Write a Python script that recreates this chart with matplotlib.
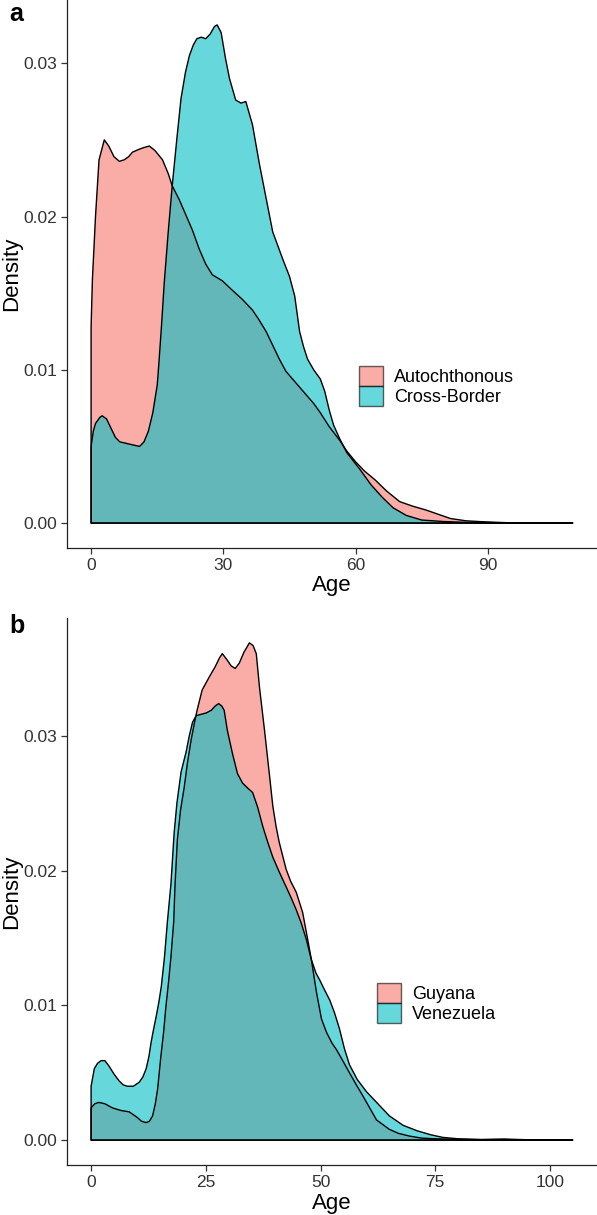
import numpy as np
import matplotlib
matplotlib.use("Agg")
import matplotlib.pyplot as plt
from matplotlib.patches import Patch

plt.rcParams['font.family'] = ['Liberation Sans', 'DejaVu Sans']

# ---------------- data ----------------
# Panel a
groups_a = ["Autochthonous", "Cross-Border"]
age_a_auto = [0, 0.3, 1, 1.8, 3, 4, 5.2, 6.4, 7.5, 8.5, 9.4, 11, 12, 13.2, 14.5, 16.2,
              17.5, 18.4, 20, 21.5, 23, 24.5, 26, 27.5, 29.8, 32, 34.3, 36.6, 38, 39.7,
              41.2, 42.7, 44.2, 45.7, 47.2, 49, 50.5, 52, 54, 56.4, 58, 60, 62, 64.5, 67,
              70, 73, 76, 78.5, 81.5, 85, 88, 92, 97]
dens_a_auto = [0.0128, 0.0159, 0.0200, 0.0237, 0.0250, 0.0246, 0.0239, 0.0236, 0.0237,
               0.0239, 0.0242, 0.0244, 0.0245, 0.0246, 0.0243, 0.0237, 0.0228, 0.0220,
               0.0211, 0.0201, 0.0191, 0.0179, 0.0169, 0.0162, 0.0158, 0.0152, 0.0146,
               0.0139, 0.0133, 0.0125, 0.0116, 0.0107, 0.0099, 0.0094, 0.0089, 0.0083,
               0.0078, 0.0072, 0.0063, 0.0054, 0.0047, 0.0040, 0.0034, 0.0028, 0.0021,
               0.0014, 0.0011, 0.00085, 0.0006, 0.0003, 0.00015, 0.0001, 0.00005, 0.0]
age_a_cross = [0, 0.5, 1, 2, 2.5, 3.5, 4.5, 5.5, 6.5, 8, 9.5, 11, 12, 13, 14, 15, 15.4,
               16, 16.6, 17.5, 18.4, 19.5, 20.4, 21.4, 22.3, 23.2, 24, 25, 26, 27, 28,
               28.6, 29.5, 30.5, 31.4, 32.8, 34, 35.1, 36.6, 38.2, 39.7, 41.2, 43.5, 45,
               46.2, 47.3, 48.2, 49.1, 50.5, 52, 53, 54, 55, 56.4, 58, 61, 63.5, 66, 68.5,
               71.5, 75, 80, 85, 90, 100, 109.3]
dens_a_cross = [0.0050, 0.0060, 0.0065, 0.0069, 0.0070, 0.0068, 0.0062, 0.0056, 0.0053,
                0.0052, 0.0051, 0.0050, 0.0053, 0.0060, 0.0072, 0.0090, 0.0105, 0.0130,
                0.0157, 0.0190, 0.0220, 0.0252, 0.0277, 0.0294, 0.0305, 0.0312, 0.0316,
                0.0317, 0.0316, 0.0319, 0.0324, 0.0325, 0.0320, 0.0303, 0.0290, 0.0276,
                0.0274, 0.0275, 0.0260, 0.0234, 0.0212, 0.0190, 0.0172, 0.0161, 0.0148,
                0.0125, 0.0115, 0.0107, 0.0100, 0.0094, 0.0086, 0.0074, 0.0064, 0.0055,
                0.0046, 0.0035, 0.0025, 0.0017, 0.0010, 0.0005, 0.0002, 0.0001, 0.00005,
                0.00003, 0.00001, 0.0]

# Panel b
groups_b = ["Guyana", "Venezuela"]
age_b_guy = [0, 0.8, 1.7, 3, 4.6, 6.5, 8.3, 10, 11, 12, 12.7, 13.4, 14, 14.5, 15.2, 15.8,
             16.3, 16.9, 17.4, 18, 18.3, 18.8, 19.5, 20.3, 21, 21.8, 22.6, 23.1, 24.2,
             25.8, 27, 28, 28.6, 29.5, 30.5, 31.4, 32.3, 33.3, 34.5, 35.3, 36, 36.7, 37.8,
             38.9, 39.6, 40.3, 41, 42.5, 43.5, 44.7, 46.1, 47.2, 48, 49.1, 50.2, 51.3,
             52.5, 53.5, 55, 56.3, 57.8, 59.2, 60.7, 62.2, 65, 67, 69.4, 72, 75, 80, 85,
             90, 95]
dens_b_guy = [0.0024, 0.0027, 0.0028, 0.0027, 0.0024, 0.0022, 0.0021, 0.0017, 0.0014,
              0.0013, 0.0014, 0.0018, 0.0027, 0.0038, 0.0062, 0.0080, 0.0099, 0.0118,
              0.0136, 0.0162, 0.0190, 0.0223, 0.0245, 0.0262, 0.0280, 0.0297, 0.0311,
              0.0319, 0.0334, 0.0344, 0.0351, 0.0358, 0.0361, 0.0357, 0.0352, 0.0350,
              0.0354, 0.0362, 0.0369, 0.0367, 0.0361, 0.0336, 0.0304, 0.0270, 0.0248,
              0.0233, 0.0221, 0.0201, 0.0192, 0.0184, 0.0169, 0.0149, 0.0134, 0.0110,
              0.0090, 0.0080, 0.0072, 0.0067, 0.0058, 0.0050, 0.0041, 0.0033, 0.0024,
              0.0015, 0.0008, 0.0005, 0.0003, 0.00015, 0.0001, 0.00005, 0.00003,
              0.00005, 0.0]
age_b_ven = [0, 0.7, 1.4, 2.2, 3, 3.9, 5, 6.1, 7, 7.9, 9.2, 10.5, 11.3, 12, 12.6, 13.1,
             13.6, 14.2, 14.8, 15.3, 16, 16.6, 17.4, 18.1, 18.7, 19.6, 20.7, 21.4, 22.1,
             22.9, 24, 25.1, 26.2, 27, 27.8, 28.5, 29, 29.7, 30.8, 31.9, 33, 34.2, 35.2,
             36.3, 37.4, 38.5, 39.6, 41, 42.5, 43.7, 44.7, 45.8, 46.9, 48, 49, 49.8,
             50.8, 52, 53, 54.1, 55.2, 56.3, 58, 60, 62.5, 65, 68, 71, 74, 76.7, 80, 85,
             90, 95, 100, 105]
dens_b_ven = [0.0040, 0.0053, 0.0057, 0.0059, 0.0059, 0.0055, 0.0049, 0.0044, 0.0041,
              0.0040, 0.0040, 0.0043, 0.0047, 0.0053, 0.0062, 0.0073, 0.0082, 0.0092,
              0.0103, 0.0114, 0.0136, 0.0161, 0.0190, 0.0228, 0.0250, 0.0273, 0.0288,
              0.0300, 0.0310, 0.0315, 0.0316, 0.0317, 0.0319, 0.0322, 0.0324, 0.0322,
              0.0319, 0.0304, 0.0287, 0.0272, 0.0265, 0.0261, 0.0258, 0.0247, 0.0233,
              0.0221, 0.0210, 0.0199, 0.0188, 0.0179, 0.0171, 0.0161, 0.0149, 0.0134,
              0.0124, 0.0119, 0.0112, 0.0104, 0.0095, 0.0083, 0.0068, 0.0056, 0.0045,
              0.0036, 0.0027, 0.0018, 0.0011, 0.0007, 0.0004, 0.0002, 0.0001, 0.00005,
              0.00008, 0.00003, 0.00001, 0.0]

xticks_a = [0, 30, 60, 90]
xticks_b = [0, 25, 50, 75, 100]
yticks = [0.00, 0.01, 0.02, 0.03]
ytick_labels = ["0.00", "0.01", "0.02", "0.03"]

# ---------------- styling ----------------
W, H = 597, 1215
DPI = 100
PINK = "#F8766D"
TEAL = "#00BFC4"
ALPHA = 0.6
TICK_COLOR = "#333333"

fig = plt.figure(figsize=(W / DPI, H / DPI), dpi=DPI)


def px_axes(left, top, right, bottom):
    return fig.add_axes([left / W, 1 - bottom / H, (right - left) / W, (bottom - top) / H])


def density_fill(ax, x, y, color):
    x = np.asarray(x, float)
    y = np.asarray(y, float)
    xs = np.concatenate([[x[0]], x, [x[-1]]])
    ys = np.concatenate([[0.0], y, [0.0]])
    ax.fill(xs, ys, facecolor=color, alpha=ALPHA, edgecolor="none", zorder=2)
    ax.fill(xs, ys, facecolor="none", edgecolor="black", linewidth=1.0, zorder=3,
            joinstyle="round")


def style_axes(ax, xticks, xmax_data, ymax_data):
    for s in ["top", "right"]:
        ax.spines[s].set_visible(False)
    for s in ["left", "bottom"]:
        ax.spines[s].set_linewidth(0.9)
        ax.spines[s].set_color("#222222")
    ax.set_xlim(-0.05 * xmax_data, xmax_data * 1.05)
    ax.set_ylim(-0.05 * ymax_data, ymax_data * 1.05)
    ax.set_xticks(xticks)
    ax.set_xticklabels([str(t) for t in xticks])
    ax.set_yticks(yticks)
    ax.set_yticklabels(ytick_labels)
    ax.tick_params(axis="both", length=4, width=0.9, color="#333333",
                   labelsize=12.5, labelcolor=TICK_COLOR, pad=3)


def add_legend(ax, labels, anchor_px):
    handles = [Patch(facecolor=PINK, alpha=ALPHA, edgecolor="black", linewidth=1.0, label=labels[0]),
               Patch(facecolor=TEAL, alpha=ALPHA, edgecolor="black", linewidth=1.0, label=labels[1])]
    leg = ax.legend(handles=handles, loc="upper left",
                    bbox_to_anchor=(anchor_px[0] / W, 1 - anchor_px[1] / H),
                    bbox_transform=fig.transFigure, frameon=False, fontsize=13,
                    handlelength=1.33, handleheight=1.3, labelspacing=0.0,
                    handletextpad=0.6, borderpad=0, borderaxespad=0)
    for h in leg.legend_handles:
        h.set_edgecolor("black")
    return leg


# Panel a
ax1 = px_axes(67, 0, 597, 548)
density_fill(ax1, age_a_auto, dens_a_auto, PINK)
density_fill(ax1, age_a_cross, dens_a_cross, TEAL)
style_axes(ax1, xticks_a, 109.3, 0.0325)
ax1.set_xlabel("Age", fontsize=16, labelpad=2)
ax1.set_ylabel("Density", fontsize=16, va="center")
ax1.yaxis.set_label_coords(-(67 - 12) / 530, 0.5)
add_legend(ax1, groups_a, (359, 366))

# Panel b
ax2 = px_axes(67, 618, 597, 1165)
density_fill(ax2, age_b_guy, dens_b_guy, PINK)
density_fill(ax2, age_b_ven, dens_b_ven, TEAL)
style_axes(ax2, xticks_b, 105, 0.0369)
ax2.set_xlabel("Age", fontsize=16, labelpad=2)
ax2.set_ylabel("Density", fontsize=16, va="center")
ax2.yaxis.set_label_coords(-(67 - 12) / 530, 0.5)
add_legend(ax2, groups_b, (377, 983))

# Panel letters
fig.text(9 / W, 1 - 21 / H, "a", fontsize=18, fontweight="bold", ha="left", va="baseline")
fig.text(9 / W, 1 - 633 / H, "b", fontsize=18, fontweight="bold", ha="left", va="baseline")

fig.savefig("out.png", dpi=DPI)
